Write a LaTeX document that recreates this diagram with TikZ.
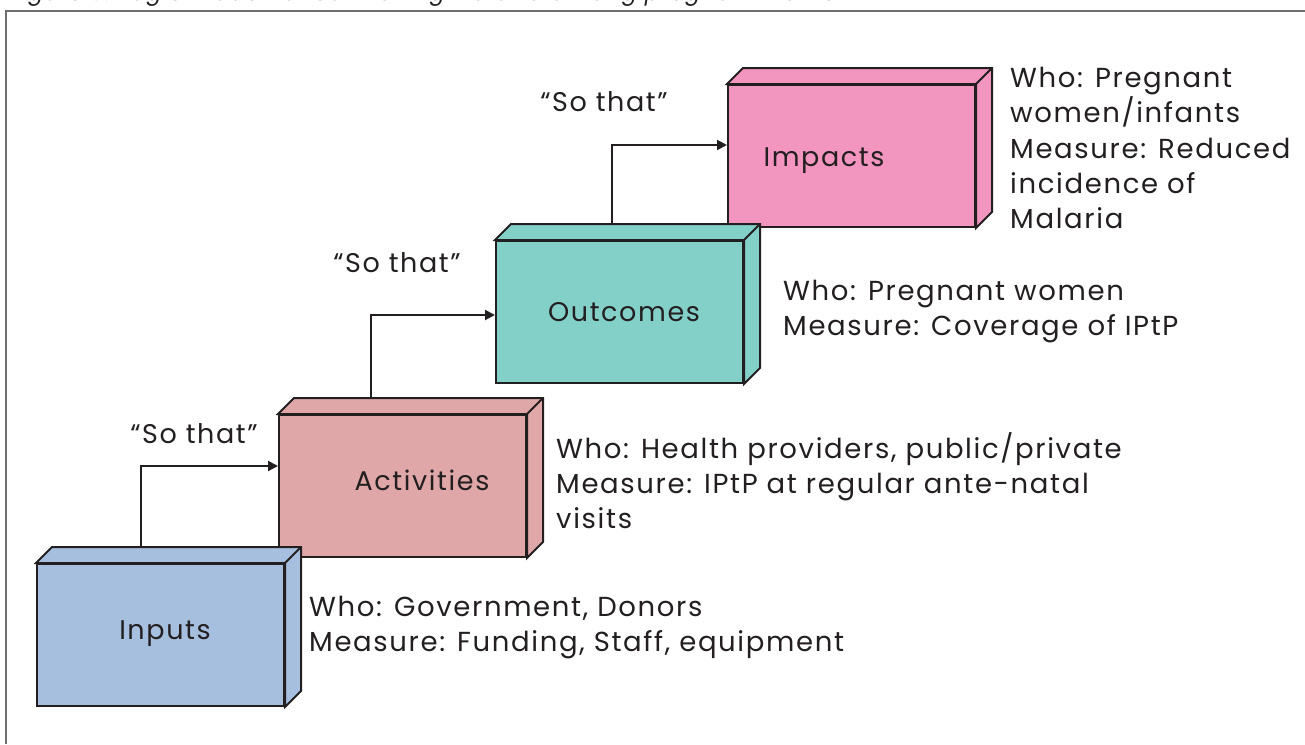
\documentclass[tikz,border=0pt]{standalone}
\usepackage{fontspec}
\setmainfont{Poppins}[LetterSpace=6]
\usetikzlibrary{arrows.meta}
\definecolor{ink}{HTML}{231F20}
\definecolor{cin}{HTML}{A7BFDF}
\definecolor{cact}{HTML}{DFA7A7}
\definecolor{cout}{HTML}{83D0C9}
\definecolor{cimp}{HTML}{F296BF}
\definecolor{framec}{HTML}{6E6E6E}
\tikzset{
  face/.style={draw=ink, line width=2pt, minimum width=247pt, minimum height=142pt, anchor=north west, inner sep=0pt},
  side/.style={draw=ink, line width=2pt, line join=miter},
  lbl/.style={text=ink, font=\fontsize{27}{32}\selectfont, inner sep=0pt},
  info/.style={text=ink, font=\fontsize{27.5}{35.3}\selectfont, align=left, anchor=north west, inner sep=0pt},
  conn/.style={draw=ink, line width=2pt, -{Triangle[length=10pt,width=10pt]}},
}
\newcommand{\backfaces}[2]{%
  \filldraw[side, fill=#2] (#1.north west) -- ++(16,-16) -- ([shift={(16,-16)}]#1.north east) -- ([shift={(16,-16)}]#1.south east) -- (#1.south east) -- (#1.north east) -- cycle;
  \draw[side] (#1.north east) -- ++(16,-16);
}
\begin{document}
\begin{tikzpicture}[x=1pt, y=-1pt]
\useasboundingbox (0,0) rectangle (1305,744);
% caption (cut off by the page edge)
\node[anchor=base west, inner sep=0pt, text=ink, font=\fontsize{22}{24}\selectfont\itshape] (caption) at (9,1) {Figure 3. Logic model for controlling Malaria among pregnant women};
% frame
\draw[framec, line width=1.5pt] (6,744) -- (6,11) -- (1310,11);
% boxes (higher ones first)
\node[face, fill=cimp] (impacts) at (727,84) {};
\backfaces{impacts}{cimp}
\node[face, fill=cout] (outcomes) at (495,240) {};
\backfaces{outcomes}{cout}
\node[face, fill=cact] (activities) at (278,414) {};
\backfaces{activities}{cact}
\node[face, fill=cin] (inputs) at (36,563) {};
\backfaces{inputs}{cin}
% box labels
\node[lbl] (linputs) at (165,634) {Inputs};
\node[lbl] (lact) at (422,480) {Activities};
\node[lbl] (lout) at (624,312) {Outcomes};
\node[lbl] (limp) at (824,161) {Impacts};
% connectors
\coordinate (s1) at (141,547);
\coordinate (e1) at (278,466);
\coordinate (s2) at (371,398);
\coordinate (e2) at (495,315);
\coordinate (s3) at (612,224);
\coordinate (e3) at (727,145);
\draw[conn] (s1) |- (e1);
\draw[conn] (s2) |- (e2);
\draw[conn] (s3) |- (e3);
\node[lbl] (so1) at (194,434) {“So that”};
\node[lbl] (so2) at (397,263) {“So that”};
\node[lbl] (so3) at (604,102) {“So that”};
% descriptions
\node[info] (dinputs) at (309,596) {Who: Government, Donors\\Measure: Funding, Staff, equipment};
\node[info] (dact) at (556,432) {Who: Health providers, public/private\\Measure: IPtP at regular ante-natal\\visits};
\node[info] (dout) at (783,280) {Who: Pregnant women\\Measure: Coverage of IPtP};
\node[info] (dimp) at (1010,67) {Who: Pregnant\\women/infants\\Measure: Reduced\\incidence of\\Malaria};
\end{tikzpicture}
\end{document}
